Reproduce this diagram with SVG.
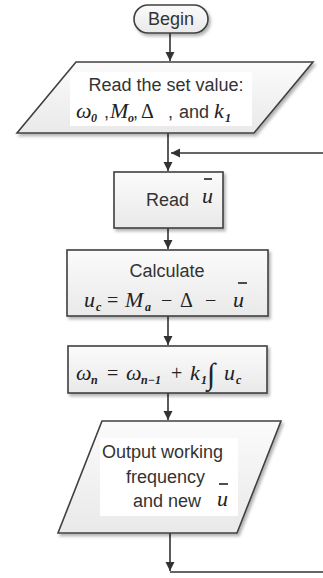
<svg xmlns="http://www.w3.org/2000/svg" width="323" height="578" viewBox="0 0 323 578">
<defs>
<linearGradient id="g" x1="0" y1="0" x2="0" y2="1">
<stop offset="0" stop-color="#fbfbfb"/>
<stop offset="1" stop-color="#e9e9e9"/>
</linearGradient>
<filter id="sh" x="-10%" y="-10%" width="130%" height="140%">
<feDropShadow dx="2" dy="2.5" stdDeviation="1.6" flood-color="#000" flood-opacity="0.3"/>
</filter>
<marker id="ah" markerWidth="10" markerHeight="10" refX="9" refY="5" orient="auto" markerUnits="userSpaceOnUse">
<path d="M0,0.5 L9,5 L0,9.5 Z" fill="#333"/>
</marker>
</defs>
<style>
.s{fill:url(#g);stroke:#404040;stroke-width:1.6;filter:url(#sh)}
.tb{fill:#fff}
.t{font-family:"Liberation Sans",Arial,sans-serif;font-size:18px;fill:#333}
.m{font-family:"Liberation Serif","Times New Roman",serif;font-style:italic;font-size:22px;fill:#222}
.mn{font-family:"Liberation Serif","Times New Roman",serif;font-size:20px;fill:#222}
.sb{font-family:"Liberation Serif","Times New Roman",serif;font-style:italic;font-weight:bold;font-size:12px;fill:#222}
.c{fill:none;stroke:#333;stroke-width:1.6}
.bar{stroke:#222;stroke-width:1.6}
</style>
<rect width="323" height="578" fill="#fff"/>
<g id="connectors">
<line class="c" x1="170" y1="33" x2="170" y2="61" marker-end="url(#ah)"/>
<line class="c" x1="168" y1="133" x2="168" y2="171" marker-end="url(#ah)"/>
<line class="c" x1="323" y1="153" x2="171" y2="153" marker-end="url(#ah)"/>
<line class="c" x1="168" y1="228" x2="168" y2="249" marker-end="url(#ah)"/>
<line class="c" x1="168" y1="316" x2="168" y2="345" marker-end="url(#ah)"/>
<line class="c" x1="168" y1="393" x2="168" y2="420" marker-end="url(#ah)"/>
<line class="c" x1="170" y1="533" x2="170" y2="571" marker-end="url(#ah)"/>
<line class="c" x1="170" y1="572" x2="323" y2="572"/>
</g>
<g id="begin">
<rect class="s" x="134" y="5" width="74" height="28" rx="14"/>
<text class="t" x="171" y="25" text-anchor="middle">Begin</text>
</g>
<g id="read-set">
<polygon class="s" points="76,62 313,62 254,133 17,133"/>
<rect class="tb" x="70" y="72" width="182" height="54"/>
<text class="t" x="166" y="91" text-anchor="middle">Read the set value:</text>
<text class="m" x="76" y="118">ω</text>
<text class="sb" x="91" y="122">0</text>
<text class="t" x="104" y="118">,</text>
<text class="m" x="110" y="118">M</text>
<text class="sb" x="128" y="122">o</text>
<text class="t" x="133" y="118">,</text>
<text class="mn" x="141" y="118">Δ</text>
<text class="t" x="168" y="118">,</text>
<text class="t" x="179" y="118">and</text>
<text class="m" x="214" y="118">k</text>
<text class="sb" x="225" y="122">1</text>
</g>
<g id="read-u">
<rect class="s" x="114" y="172" width="109" height="56"/>
<text class="t" x="146" y="206">Read</text>
<text class="m" x="202" y="203">u</text>
<line class="bar" x1="204" y1="179" x2="212" y2="179"/>
</g>
<g id="calculate">
<rect class="s" x="67" y="250" width="201" height="66"/>
<text class="t" x="167" y="277" text-anchor="middle">Calculate</text>
<text class="m" x="84" y="307">u</text>
<text class="sb" x="96" y="311">c</text>
<text class="mn" x="107" y="307">=</text>
<text class="m" x="125" y="307">M</text>
<text class="sb" x="145" y="311">a</text>
<text class="mn" x="161" y="307">−</text>
<text class="mn" x="180" y="307">Δ</text>
<text class="mn" x="205" y="307">−</text>
<text class="m" x="233" y="307">u</text>
<line class="bar" x1="238" y1="283" x2="247" y2="283"/>
</g>
<g id="integrate">
<rect class="s" x="68" y="346" width="199" height="47"/>
<text class="m" x="76" y="380">ω</text>
<text class="sb" x="91" y="384">n</text>
<text class="mn" x="107" y="380">=</text>
<text class="m" x="126" y="380">ω</text>
<text class="sb" x="141" y="384">n−1</text>
<text class="mn" x="171" y="380">+</text>
<text class="m" x="190" y="380">k</text>
<text class="sb" x="201" y="384">1</text>
<text class="mn" x="207" y="384" style="font-size:30px">∫</text>
<text class="m" x="224" y="380">u</text>
<text class="sb" x="236" y="384">c</text>
</g>
<g id="output">
<polygon class="s" points="102,421 281,421 237,533 58,533"/>
<rect class="tb" x="100" y="438" width="138" height="78"/>
<text class="t" x="102" y="458">Output working</text>
<text class="t" x="126" y="483">frequency</text>
<line class="bar" x1="219" y1="484" x2="228" y2="484"/>
<text class="t" x="133" y="507">and new</text>
<text class="m" x="217" y="506">u</text>
</g>
</svg>
